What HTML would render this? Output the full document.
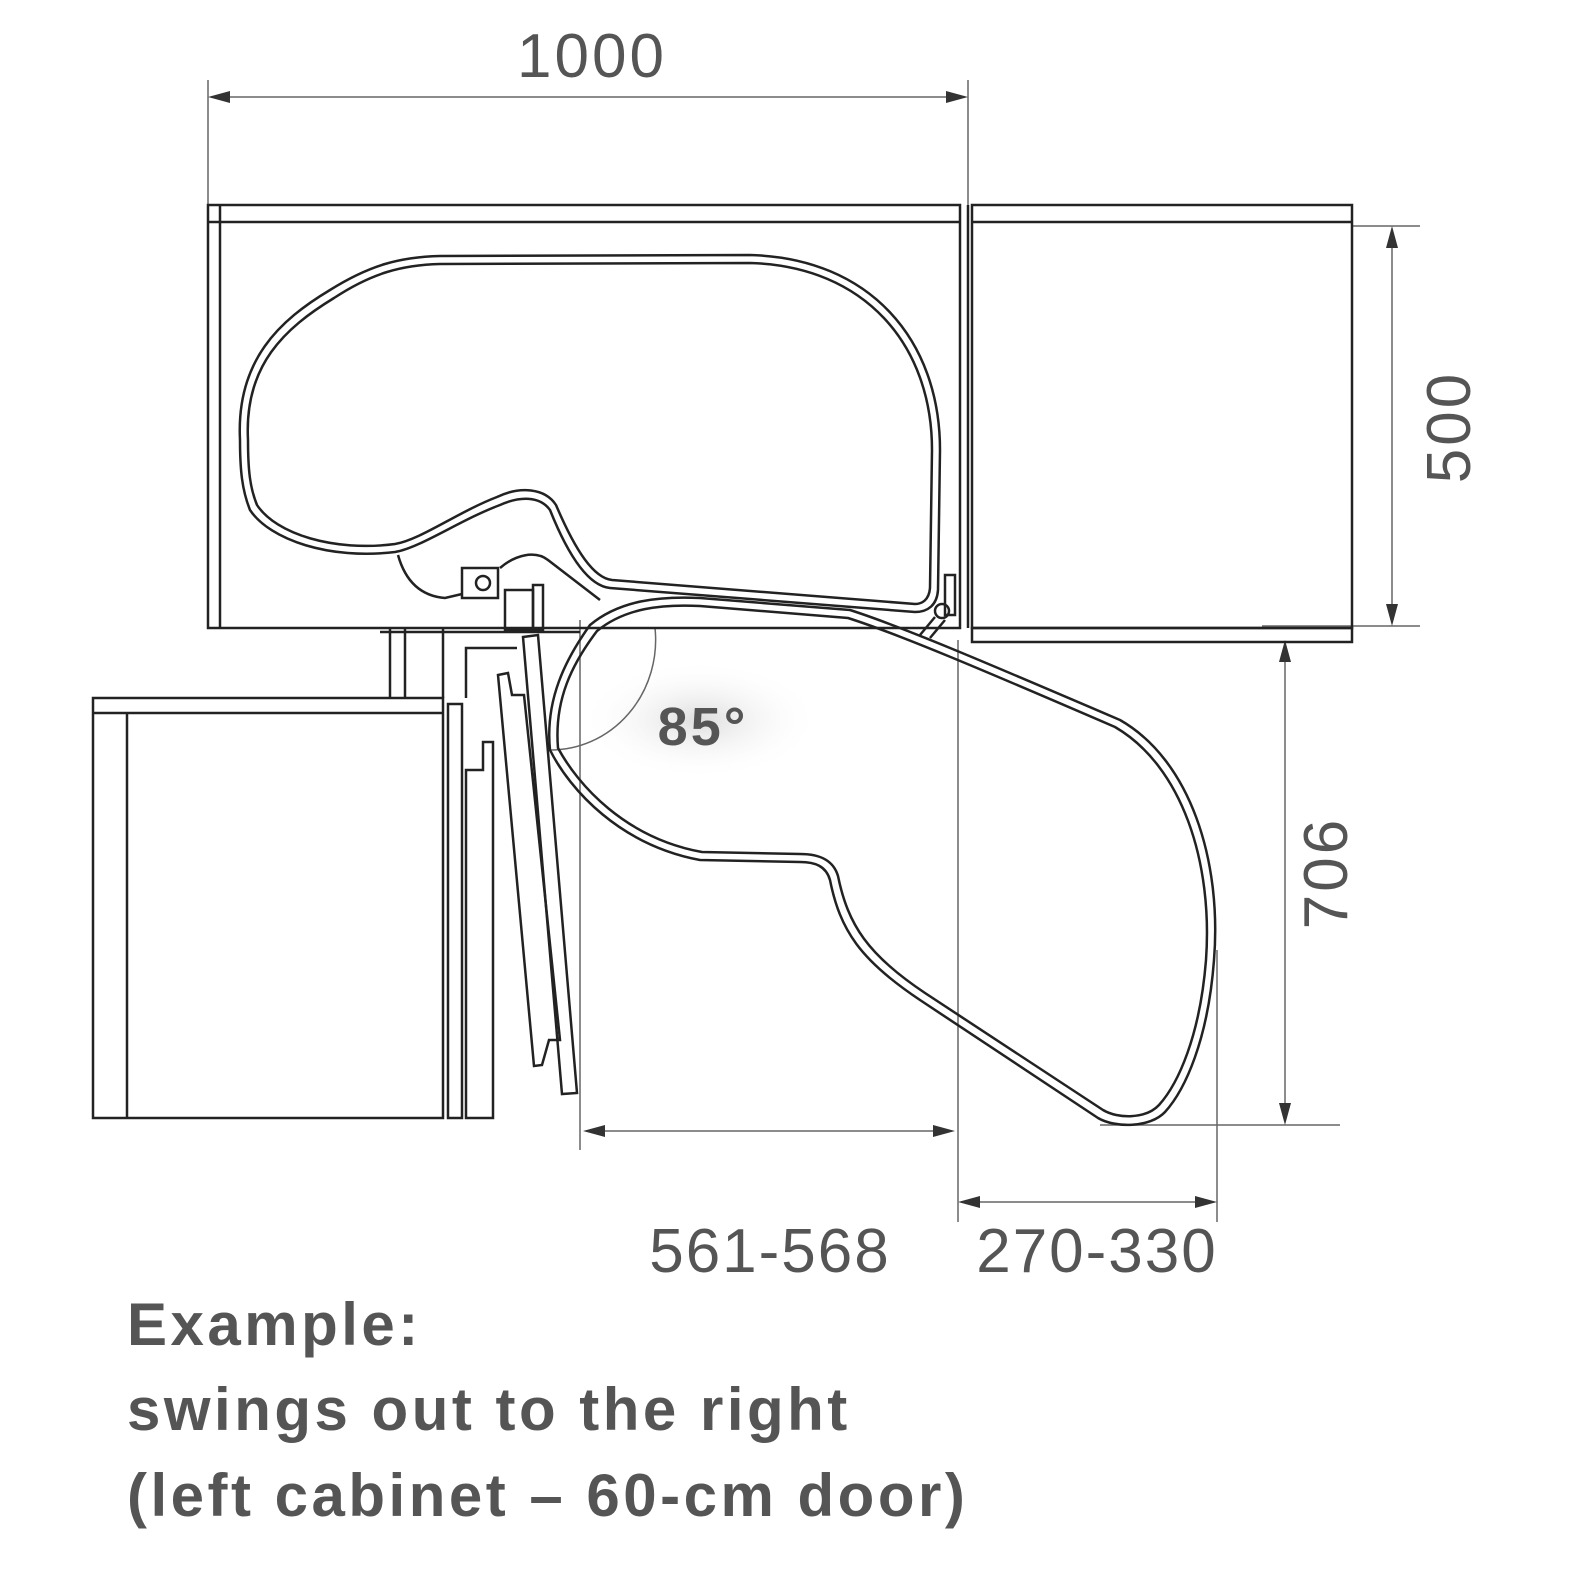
<!DOCTYPE html>
<html><head><style>
body{margin:0;background:#fff;}
svg{display:block}
.t{font-family:"Liberation Sans",sans-serif;fill:#555}
</style></head><body>
<svg width="1582" height="1582" viewBox="0 0 1582 1582" xmlns="http://www.w3.org/2000/svg">
<defs><radialGradient id="g"><stop offset="0" stop-color="#ddd"/><stop offset="1" stop-color="#fff" stop-opacity="0"/></radialGradient></defs>
<rect width="1582" height="1582" fill="#fff"/>
<ellipse cx="700" cy="720" rx="120" ry="60" fill="url(#g)"/>
<g fill="none" stroke="#666" stroke-width="1.5">
<line x1="208" y1="80" x2="208" y2="205"/><line x1="968" y1="80" x2="968" y2="205"/>
<line x1="212" y1="97" x2="964" y2="97"/>
<line x1="1352" y1="226" x2="1420" y2="226"/><line x1="1262" y1="626" x2="1420" y2="626"/>
<line x1="1392" y1="230" x2="1392" y2="622"/>
<line x1="1100" y1="1125" x2="1340" y2="1125"/>
<line x1="1285" y1="644" x2="1285" y2="1121"/>
<line x1="580" y1="620" x2="580" y2="1150"/><line x1="958" y1="640" x2="958" y2="1222"/><line x1="1217" y1="950" x2="1217" y2="1222"/>
<line x1="587" y1="1131" x2="951" y2="1131"/>
<line x1="962" y1="1202" x2="1213" y2="1202"/>
<path d="M550 628 L655 628 A105 110 0 0 1 550 750"/>
</g>
<g fill="#333">
<path d="M208 97 l22 -6 v12z"/><path d="M968 97 l-22 -6 v12z"/>
<path d="M1392 226 l-6 22 h12z"/><path d="M1392 626 l-6 -22 h12z"/>
<path d="M1285 640 l-6 22 h12z"/><path d="M1285 1125 l-6 -22 h12z"/>
<path d="M583 1131 l22 -6 v12z"/><path d="M955 1131 l-22 -6 v12z"/>
<path d="M958 1202 l22 -6 v12z"/><path d="M1217 1202 l-22 -6 v12z"/>
</g>
<g fill="none" stroke="#222" stroke-width="2.5">
<rect x="208" y="205" width="752" height="423"/>
<line x1="220" y1="205" x2="220" y2="628"/>
<line x1="208" y1="222" x2="960" y2="222"/>
<line x1="968" y1="205" x2="968" y2="628"/>
<rect x="972" y="205" width="380" height="423"/>
<line x1="972" y1="222" x2="1352" y2="222"/>
<rect x="972" y="628" width="380" height="14"/>
<line x1="390" y1="628" x2="390" y2="698"/><line x1="405" y1="628" x2="405" y2="698"/>
<line x1="443" y1="628" x2="443" y2="698"/>
<line x1="380" y1="632" x2="580" y2="632"/>
<path d="M466 698 V648 H517"/>
<rect x="93" y="698" width="350" height="420"/>
<line x1="93" y1="713" x2="443" y2="713"/>
<line x1="127" y1="713" x2="127" y2="1118"/>
<rect x="448" y="704" width="14" height="414"/>
<path d="M466 1118 V770 H483 V742 H493 V1118 Z"/>
<polygon points="523,637 538,635 577,1093 562,1094"/>
<polygon points="498,675 508,673 512,695 524,695 560,1040 549,1040 542,1065 534,1066"/>
<path d="M240 440 C236 360 280 320 330 290 C370 265 400 257 440 256 L750 255 C870 258 940 340 940 450 L938 590 C937 605 928 612 915 612 L610 588 C590 586 570 560 550 510 C540 496 520 496 500 505 C460 520 420 548 395 552 C330 560 270 540 250 510 C242 490 240 470 240 440 Z"/>
<path d="M248 440 C244 365 285 328 334 298 C372 273 402 265 440 264 L750 263 C865 266 932 345 932 450 L930 588 C929 600 922 604 915 604 L612 580 C594 578 576 552 556 505 C545 488 520 486 497 497 C458 512 420 540 395 544 C334 552 276 534 257 505 C250 488 248 470 248 440 Z"/>
<path d="M590 625 C620 600 660 596 700 598 L850 610 C900 626 980 660 1120 720 C1190 760 1222 860 1214 960 C1208 1040 1185 1090 1165 1112 C1150 1128 1115 1128 1098 1118 L920 1000 C860 960 840 930 830 880 C826 866 815 862 800 862 L700 860 C620 845 570 790 550 750 C545 700 565 660 590 625 Z"/>
<path d="M597 631 C625 608 662 604 700 606 L848 618 C898 634 976 667 1115 727 C1182 766 1213 862 1206 960 C1200 1036 1178 1084 1159 1105 C1146 1119 1118 1119 1103 1110 L925 993 C868 955 848 925 838 876 C833 859 818 854 800 854 L702 852 C625 838 578 785 558 748 C554 700 572 664 597 631 Z"/>
<path d="M398 555 C405 580 420 596 445 598 L462 594"/>
<path d="M500 568 C515 555 535 550 548 560 L600 600"/>
<rect x="462" y="568" width="36" height="30"/>
<circle cx="483" cy="583" r="7"/>
<rect x="505" y="590" width="28" height="40"/>
<rect x="533" y="585" width="10" height="45"/>
<rect x="945" y="575" width="10" height="40"/>
<circle cx="942" cy="611" r="7"/>
<line x1="935" y1="617" x2="920" y2="635"/><line x1="945" y1="620" x2="930" y2="638"/>
</g>
<text class="t" x="592" y="77" font-size="62" letter-spacing="3" text-anchor="middle">1000</text>
<text class="t" font-size="62" letter-spacing="3" text-anchor="middle" transform="translate(1470 427) rotate(-90)">500</text>
<text class="t" font-size="62" letter-spacing="3" text-anchor="middle" transform="translate(1347 873) rotate(-90)">706</text>
<text class="t" x="770" y="1272" font-size="62" letter-spacing="2" text-anchor="middle">561-568</text>
<text class="t" x="1097" y="1272" font-size="62" letter-spacing="2" text-anchor="middle">270-330</text>
<text class="t" x="703" y="745" font-size="54" letter-spacing="3" font-weight="bold" text-anchor="middle">85°</text>
<text class="t" x="127" y="1345" font-size="60" letter-spacing="3.5" font-weight="bold">Example:</text>
<text class="t" x="127" y="1430" font-size="60" letter-spacing="3.5" font-weight="bold">swings out to the right</text>
<text class="t" x="127" y="1516" font-size="60" letter-spacing="3.5" font-weight="bold">(left cabinet – 60-cm door)</text>
</svg>
</body></html>
